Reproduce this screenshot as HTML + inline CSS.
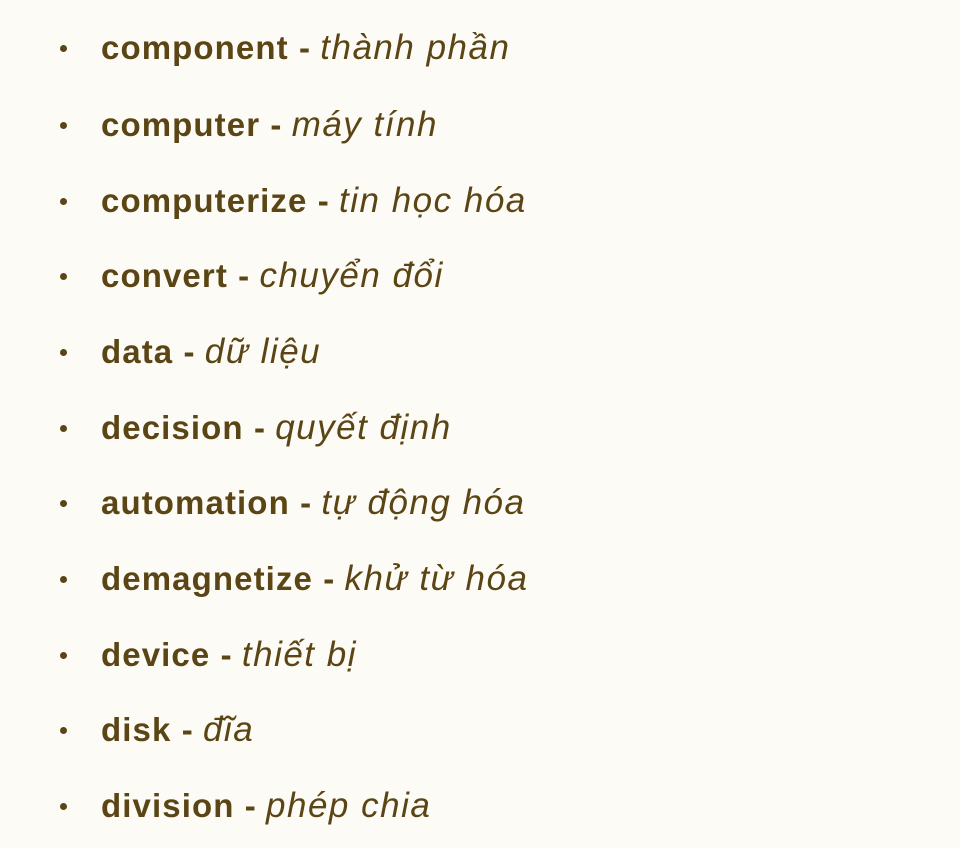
<!DOCTYPE html>
<html><head><meta charset="utf-8"><style>
html,body{margin:0;padding:0;background:#fcfbf6;}
body{width:960px;height:848px;position:relative;overflow:hidden;font-family:"Liberation Sans",sans-serif;color:#5b4515;}
.r{position:absolute;left:0;height:40px;line-height:40px;font-size:33px;white-space:nowrap;}
.d{position:absolute;left:60px;top:17px;width:7px;height:7px;border-radius:50%;background:#5b4515;}
.t{position:absolute;left:101px;top:0;}
b{font-weight:bold;letter-spacing:1.1px;}
i{font-style:italic;font-weight:normal;letter-spacing:1.5px;font-size:35px;}
</style></head><body>
<div class="r" style="top:28px"><div class="d"></div><div class="t"><b>component -</b> <i>thành phần</i></div></div>
<div class="r" style="top:105px"><div class="d"></div><div class="t"><b>computer -</b> <i>máy tính</i></div></div>
<div class="r" style="top:181px"><div class="d"></div><div class="t"><b>computerize -</b> <i>tin học hóa</i></div></div>
<div class="r" style="top:256px"><div class="d"></div><div class="t"><b>convert -</b> <i>chuyển đổi</i></div></div>
<div class="r" style="top:332px"><div class="d"></div><div class="t"><b>data -</b> <i>dữ liệu</i></div></div>
<div class="r" style="top:408px"><div class="d"></div><div class="t"><b>decision -</b> <i>quyết định</i></div></div>
<div class="r" style="top:483px"><div class="d"></div><div class="t"><b>automation -</b> <i>tự động hóa</i></div></div>
<div class="r" style="top:559px"><div class="d"></div><div class="t"><b>demagnetize -</b> <i>khử từ hóa</i></div></div>
<div class="r" style="top:635px"><div class="d"></div><div class="t"><b>device -</b> <i>thiết bị</i></div></div>
<div class="r" style="top:710px"><div class="d"></div><div class="t"><b>disk -</b> <i>đĩa</i></div></div>
<div class="r" style="top:786px"><div class="d"></div><div class="t"><b>division -</b> <i>phép chia</i></div></div>
</body></html>
